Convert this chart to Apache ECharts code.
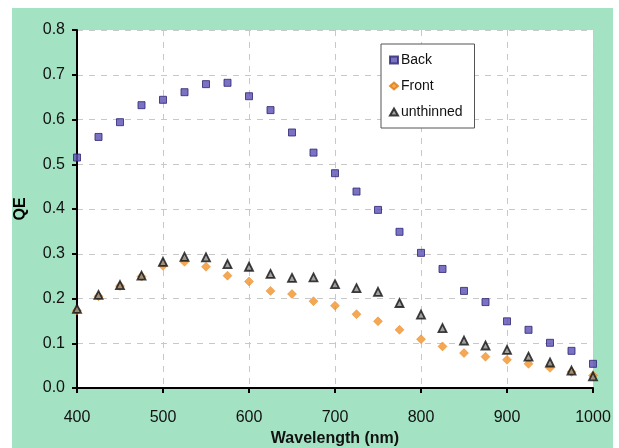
<!DOCTYPE html>
<html>
<head>
<meta charset="utf-8">
<script src="https://cdn.jsdelivr.net/npm/echarts@6/dist/echarts.min.js"></script>
<style>
  html, body { margin: 0; padding: 0; background: #fff; }
  #main { width: 619px; height: 448px; }
</style>
</head>
<body>
<div id="main"></div>
<script>
// wavelength in nm, one point every 25 nm
const wavelengths = [400, 425, 450, 475, 500, 525, 550, 575, 600, 625, 650, 675, 700,
	725, 750, 775, 800, 825, 850, 875, 900, 925, 950, 975, 1000];
const backQE = [0.515, 0.561, 0.594, 0.632, 0.644, 0.661, 0.679, 0.682, 0.652, 0.621, 0.571, 0.526, 0.48,
	0.439, 0.398, 0.349, 0.302, 0.266, 0.217, 0.192, 0.149, 0.130, 0.101, 0.083, 0.054];
const frontQE = [0.173, 0.205, 0.228, 0.249, 0.273, 0.282, 0.271, 0.251, 0.238, 0.217, 0.210, 0.194, 0.184,
	0.165, 0.149, 0.130, 0.109, 0.093, 0.078, 0.070, 0.063, 0.054, 0.045, 0.036, 0.028];
const unthinnedQE = [0.177, 0.208, 0.230, 0.251, 0.282, 0.293, 0.292, 0.277, 0.271, 0.255, 0.246, 0.247, 0.232,
	0.223, 0.215, 0.190, 0.164, 0.134, 0.106, 0.095, 0.085, 0.070, 0.057, 0.039, 0.026];

const pairs = (ys) => wavelengths.map((x, i) => [x, ys[i]]);

let myChart = echarts.init(document.getElementById('main'));

let option = {
	backgroundColor: '#fff',
	animation: false,
	textStyle: {
		fontFamily: 'Liberation Sans, Arial, sans-serif'
	},
	graphic: [{
		type: 'rect',
		z: -10,
		shape: { x: 12, y: 8, width: 601, height: 440 },
		style: { fill: '#a3e2c2' },
		silent: true
	}],
	grid: {
		left: 77,
		top: 30,
		right: 26,
		bottom: 60,
		containLabel: false,
		outerBoundsMode: 'none',
		show: true,
		backgroundColor: '#fff',
		borderWidth: 0
	},
	legend: {
		orient: 'vertical',
		left: 381,
		top: 44,
		width: 93,
		padding: [9, 12, 9, 8],
		itemGap: 12,
		itemWidth: 8,
		itemHeight: 7,
		backgroundColor: '#fff',
		borderColor: '#555',
		borderWidth: 1,
		textStyle: {
			fontSize: 14,
			color: '#111',
			padding: [0, 0, 0, -2]
		},
		data: ['Back', 'Front', 'unthinned']
	},
	xAxis: {
		type: 'value',
		min: 400,
		max: 1000,
		interval: 100,
		name: 'Wavelength (nm)',
		nameLocation: 'middle',
		nameGap: 43,
		nameTextStyle: {
			fontSize: 16,
			fontWeight: 'bold',
			color: '#111'
		},
		axisLine: {
			lineStyle: { color: '#000', width: 2 }
		},
		axisTick: {
			inside: false,
			length: 5,
			lineStyle: { color: '#000', width: 2 }
		},
		axisLabel: {
			fontSize: 16,
			color: '#111',
			margin: 22,
			formatter: (v) => String(v)
		},
		splitLine: {
			show: true,
			lineStyle: { color: '#c8c8c8', type: [6, 6], width: 1 }
		}
	},
	yAxis: {
		type: 'value',
		min: 0,
		max: 0.8,
		interval: 0.1,
		name: 'QE',
		nameLocation: 'middle',
		nameGap: 48,
		nameRotate: 90,
		nameTextStyle: {
			fontSize: 16,
			fontWeight: 'bold',
			color: '#000'
		},
		axisLine: {
			lineStyle: { color: '#000', width: 2 }
		},
		axisTick: {
			inside: false,
			length: 5,
			lineStyle: { color: '#000', width: 2 }
		},
		axisLabel: {
			fontSize: 16,
			color: '#111',
			margin: 12,
			formatter: (v) => v.toFixed(1)
		},
		splitLine: {
			show: true,
			lineStyle: { color: '#c8c8c8', type: [6, 6], width: 1 }
		}
	},
	series: [{
		name: 'Back',
		type: 'scatter',
		symbol: 'rect',
		symbolSize: 7,
		itemStyle: {
			color: '#5a4fb5',
			borderColor: '#2c2470',
			borderWidth: 1
		},
		data: pairs(backQE)
	}, {
		name: 'Front',
		type: 'scatter',
		symbol: 'diamond',
		symbolSize: 9,
		itemStyle: {
			color: '#f39228',
			borderColor: '#e07a10',
			borderWidth: 0.5
		},
		data: pairs(frontQE)
	}, {
		name: 'unthinned',
		type: 'scatter',
		symbol: 'triangle',
		symbolSize: 8,
		itemStyle: {
			color: '#8a8a8a',
			borderColor: '#111',
			borderWidth: 1.8
		},
		data: pairs(unthinnedQE)
	}]
};

myChart.setOption(option);
</script>
</body>
</html>
